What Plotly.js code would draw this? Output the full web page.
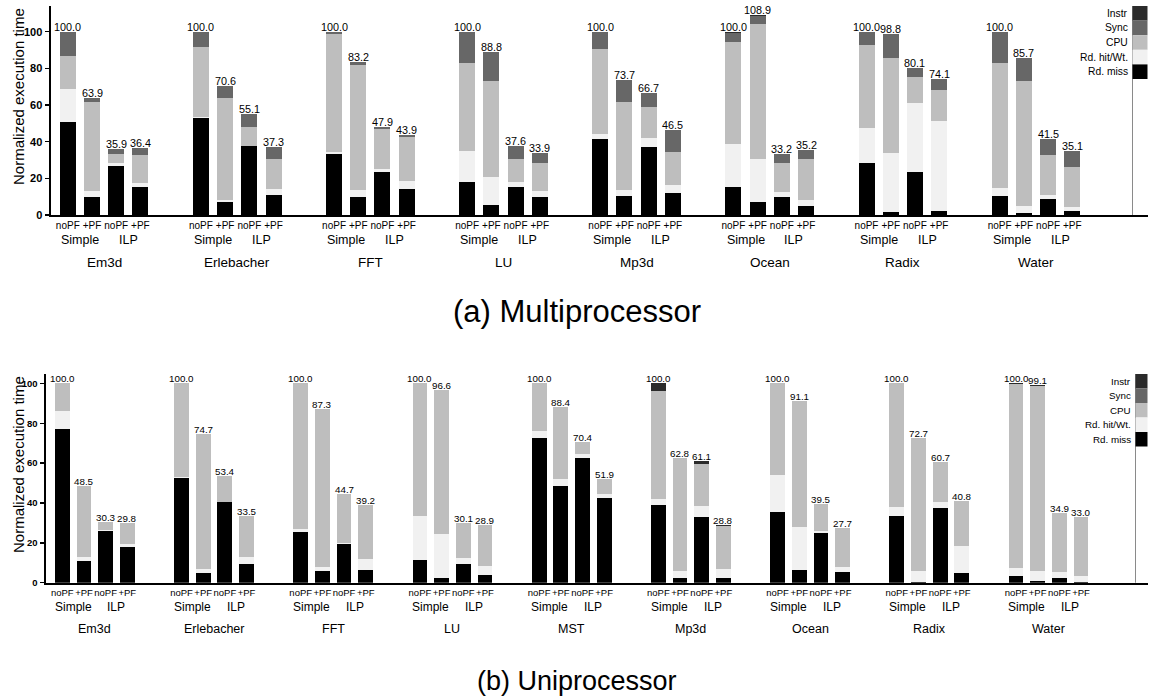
<!DOCTYPE html>
<html><head><meta charset="utf-8">
<script src="https://cdn.plot.ly/plotly-3.0.1.min.js"></script>
<style>html,body{margin:0;padding:0;background:#fff}</style>
</head><body><div id="chart" style="width:1154px;height:698px"></div>
<script>
// ---------- DATA ----------
const barLabels = ["noPF", "+PF", "noPF", "+PF"];
const pairLabels = ["Simple", "ILP"];
const seriesNames = ["Instr", "Sync", "CPU", "Rd. hit/Wt.", "Rd. miss"];

// (a) Multiprocessor
const mpBench = ["Em3d", "Erlebacher", "FFT", "LU", "Mp3d", "Ocean", "Radix", "Water"];
const mpMiss = [50.5,10.0,26.7,15.5, 52.7,6.9,37.6,10.9, 33.1,9.6,23.3,14.0, 18.2,5.5,15.5,10.0, 41.5,10.4,37.3,12.2, 15.5,7.3,10.0,5.1, 28.2,1.5,23.6,2.2, 10.5,0.9,8.7,2.2];
const mpHit  = [18.1,3.3,1.5,2.1, 0.5,1.3,0.0,3.1, 1.4,4.0,1.6,4.5, 16.7,15.4,2.3,3.3, 2.7,3.2,4.5,4.2, 23.2,23.1,2.4,3.1, 19.4,32.5,37.7,49.3, 4.4,4.0,2.2,2.3];
const mpCPU  = [18.3,48.2,4.9,15.1, 38.6,55.4,10.6,16.5, 64.0,68.2,22.0,24.2, 47.9,52.2,12.7,14.9, 46.4,48.2,16.9,17.8, 55.5,73.8,15.8,22.3, 45.1,51.8,14.2,16.7, 68.2,68.4,21.8,21.8];
const mpSync = [13.1,2.4,2.8,3.7, 8.2,7.0,6.9,6.8, 1.5,1.4,1.0,1.2, 17.2,15.7,7.1,5.7, 9.4,11.9,8.0,12.3, 5.3,4.2,5.0,4.7, 7.3,13.0,4.6,5.9, 16.9,12.4,8.8,8.8];
const mpInstr= [0,0,0,0, 0,0,0,0, 0,0,0,0, 0,0,0,0, 0,0,0,0, 0.5,0.5,0,0, 0,0,0,0, 0,0,0,0];

// (b) Uniprocessor
const upBench = ["Em3d", "Erlebacher", "FFT", "LU", "MST", "Mp3d", "Ocean", "Radix", "Water"];
const upMiss = [77.0,10.9,26.1,17.8, 52.4,5.0,40.3,9.2, 25.6,5.9,19.3,6.4, 11.4,2.5,9.2,3.9, 72.5,48.7,62.4,42.7, 39.0,2.5,33.1,2.2, 35.6,6.4,25.1,5.5, 33.5,0.3,37.6,5.0, 3.5,0.9,2.5,0.2];
const upHit  = [9.2,1.8,0.5,1.5, 0.5,1.7,0.3,3.8, 1.2,2.1,0.8,5.5, 22.2,21.8,3.0,4.5, 3.6,3.3,2.0,1.7, 3.0,3.5,5.5,4.7, 18.4,21.7,0.8,2.5, 4.3,5.6,2.7,13.6, 4.0,5.0,2.7,3.2];
const upCPU  = [13.8,35.8,3.7,10.5, 47.1,68.0,12.8,20.5, 73.2,79.3,24.6,27.3, 66.4,72.3,17.9,20.5, 23.9,36.4,6.0,7.5, 54.2,56.5,20.8,21.4, 46.0,63.0,13.6,19.7, 62.2,66.8,20.4,22.2, 92.0,93.0,29.7,29.4];
const upSync = [0,0,0,0, 0,0,0,0, 0,0,0,0, 0,0,0,0, 0,0,0,0, 0,0,0,0, 0,0,0,0, 0,0,0,0, 0,0,0,0];
const upInstr= [0,0,0,0, 0,0,0,0, 0,0,0,0, 0,0,0,0, 0,0,0,0, 3.8,0.3,1.7,0.5, 0,0,0,0, 0,0,0,0, 0.5,0.2,0,0.2];

// ---------- STYLE ----------
const W = 1154, H = 698;
const colors = {"Instr":"#2b2b2b","Sync":"#676767","CPU":"#bebebe","Rd. hit/Wt.":"#f1f1f1","Rd. miss":"#000000"};
const SANS = "Liberation Sans, Arial, Helvetica, sans-serif";
const GROUP = 5.5;
const px = x => x / W;
const py = y => 1 - y / H;

function positions(nb) { const xs = []; for (let g = 0; g < nb; g++) for (let b = 0; b < 4; b++) xs.push(g * GROUP + b); return xs; }

const panels = [
  {bench: mpBench, miss: mpMiss, hit: mpHit, cpu: mpCPU, sync: mpSync, instr: mpInstr, xa: "x", ya: "y", width: 0.66,
   valSize: 10.8, pairSize: 12.5, nameSize: 13.5, pairY: 240, nameY: 262.5, title: "(a) Multiprocessor", titleSize: 31, titleY: 311,
   yTitleY: 97, legLineX: 1132.5, legTop: 6, legStep: 14.6, legBot: 215, legTextX: 1129, legSize: 10.3},
  {bench: upBench, miss: upMiss, hit: upHit, cpu: upCPU, sync: upSync, instr: upInstr, xa: "x2", ya: "y2", width: 0.68,
   valSize: 9.8, pairSize: 12, nameSize: 12.5, pairY: 607, nameY: 628.5, title: "(b) Uniprocessor", titleSize: 27, titleY: 681,
   yTitleY: 465, legLineX: 1135.5, legTop: 374, legStep: 14.5, legBot: 582.7, legTextX: 1132, legSize: 9.8}
];

const traces = [], annotations = [], shapes = [];
panels.forEach(p => {
  const xs = positions(p.bench.length);
  const stackOrder = [["Rd. miss", p.miss], ["Rd. hit/Wt.", p.hit], ["CPU", p.cpu], ["Sync", p.sync], ["Instr", p.instr]];
  stackOrder.forEach(([name, vals]) => {
    traces.push({type: "bar", x: xs, y: vals, name: name, xaxis: p.xa, yaxis: p.ya, width: p.width,
      marker: {color: colors[name], line: {width: 0}}, showlegend: false, hoverinfo: "skip"});
  });
  // value labels
  xs.forEach((x, i) => {
    const tot = p.miss[i] + p.hit[i] + p.cpu[i] + p.sync[i] + p.instr[i];
    annotations.push({x: x, y: tot, xref: p.xa, yref: p.ya, text: tot.toFixed(1), showarrow: false,
      yanchor: "bottom", yshift: -2, borderpad: 0, font: {family: SANS, size: p.valSize, color: "#000"}});
  });
  // Simple / ILP and benchmark names
  p.bench.forEach((b, g) => {
    pairLabels.forEach((lab, k) => {
      annotations.push({x: g * GROUP + 2 * k + 0.5, y: py(p.pairY), xref: p.xa, yref: "paper", text: lab, showarrow: false,
        yanchor: "middle", font: {family: SANS, size: p.pairSize, color: "#000"}});
    });
    annotations.push({x: g * GROUP + 1.5, y: py(p.nameY), xref: p.xa, yref: "paper", text: b, showarrow: false,
      yanchor: "middle", font: {family: SANS, size: p.nameSize, color: "#000"}});
  });
  // panel caption
  annotations.push({x: px(577), y: py(p.titleY), xref: "paper", yref: "paper", text: p.title, showarrow: false,
    xanchor: "center", yanchor: "middle", font: {family: SANS, size: p.titleSize, color: "#000"}});
  // y title
  annotations.push({x: px(18), y: py(p.yTitleY), xref: "paper", yref: "paper", text: "Normalized execution time", showarrow: false,
    textangle: -90, xanchor: "center", yanchor: "middle", font: {family: SANS, size: 15, color: "#000"}});
  // legend
  shapes.push({type: "line", xref: "paper", yref: "paper", x0: px(p.legLineX), x1: px(p.legLineX), y0: py(p.legTop), y1: py(p.legBot),
    line: {color: "#8a8a8a", width: 1}});
  seriesNames.forEach((n, k) => {
    const y0 = p.legTop + k * p.legStep, y1 = y0 + p.legStep;
    shapes.push({type: "rect", xref: "paper", yref: "paper", x0: px(p.legLineX), x1: px(1147.5), y0: py(y1), y1: py(y0),
      fillcolor: colors[n], line: {width: 0}});
    annotations.push({x: px(p.legTextX), y: py((y0 + y1) / 2), xref: "paper", yref: "paper", text: n, showarrow: false,
      xanchor: "right", yanchor: "middle", borderpad: 0, font: {family: SANS, size: p.legSize, color: "#000"}});
  });
});

const xs1 = positions(mpBench.length), xs2 = positions(upBench.length);
const tt1 = xs1.map((_, i) => barLabels[i % 4]), tt2 = xs2.map((_, i) => barLabels[i % 4]);

const axisCommon = {showgrid: false, zeroline: false, showline: true, linecolor: "#000", linewidth: 2};
const layout = {
  width: W, height: H, margin: {l: 0, r: 0, t: 0, b: 0}, paper_bgcolor: "#fff", plot_bgcolor: "#fff",
  barmode: "stack", showlegend: false,
  xaxis: Object.assign({}, axisCommon, {domain: [px(50.5), px(1148)], range: [-0.715, 44.63], tickvals: xs1, ticktext: tt1,
    ticks: "", tickangle: 0, tickfont: {family: SANS, size: 10, color: "#000"}, anchor: "y"}),
  yaxis: Object.assign({}, axisCommon, {domain: [py(215), py(6)], range: [0, 114], tickvals: [0,20,40,60,80,100],
    ticks: "outside", ticklen: 4, tickwidth: 1.5, tickcolor: "#000", tickfont: {family: SANS, size: 11, color: "#000", weight: "bold"}, anchor: "x"}),
  xaxis2: Object.assign({}, axisCommon, {domain: [px(45.5), px(1148)], range: [-0.775, 50.09], tickvals: xs2, ticktext: tt2,
    ticks: "", tickangle: 0, tickfont: {family: SANS, size: 9.5, color: "#000"}, anchor: "y2"}),
  yaxis2: Object.assign({}, axisCommon, {domain: [py(582.7), py(373.5)], range: [0, 105], tickvals: [0,20,40,60,80,100],
    ticks: "outside", ticklen: 4, tickwidth: 1.5, tickcolor: "#000", tickfont: {family: SANS, size: 9.5, color: "#000", weight: "bold"}, anchor: "x2"}),
  annotations: annotations, shapes: shapes
};
Plotly.newPlot("chart", traces, layout, {staticPlot: true, displayModeBar: false});
</script></body></html>
